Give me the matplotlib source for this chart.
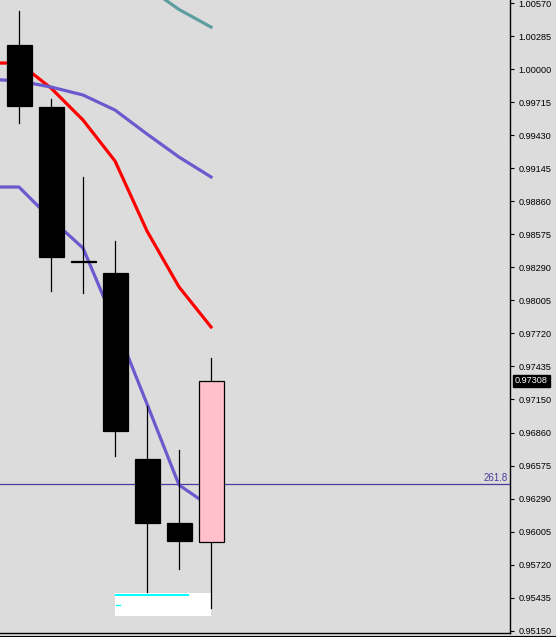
import matplotlib
matplotlib.use("Agg")
import matplotlib.pyplot as plt
from matplotlib.patches import Rectangle

# OHLC candles (index 0 = leftmost visible bar)
opens = [1.00210, 0.99674, 0.98345, 0.98240, 0.96633, 0.96080, 0.95914]
highs = [1.00504, 0.99743, 0.99067, 0.98517, 0.97094, 0.96711, 0.97506]
lows = [0.99539, 0.98087, 0.98065, 0.96659, 0.95487, 0.95686, 0.95349]
closes = [0.99683, 0.98381, 0.98338, 0.96878, 0.96083, 0.95928, 0.97308]

# moving averages (first value belongs to the bar left of the window)
ma_x = [-1, 0, 1, 2, 3, 4, 5, 6]
red_ma = [1.00054, 1.00054, 0.99838, 0.99562, 0.99208, 0.98603, 0.98120, 0.97774]
slow_ma = [0.99916, 0.99899, 0.99847, 0.99778, 0.99648, 0.99441, 0.99242, 0.99070]
fast_ma = [0.98983, 0.98983, 0.98707, 0.98456, 0.97800, 0.97109, 0.96409, 0.96219]
teal_x = [4, 5, 6]
teal_ma = [1.00711, 1.00517, 1.00365]

fib_level = 0.96417
fib_label = "261.8"
last_price = 0.97308

tick_labels = ["1.00570", "1.00285", "1.00000", "0.99715", "0.99430", "0.99145",
               "0.98860", "0.98575", "0.98290", "0.98005", "0.97720", "0.97435",
               "0.97150", "0.96860", "0.96575", "0.96290", "0.96005", "0.95720",
               "0.95435", "0.95150"]

plt.rcParams['font.family'] = ['Liberation Sans', 'DejaVu Sans']

BG = "#DCDCDC"
W, H = 556, 637
YMIN, YMAX = 0.951302, 1.005987
fig = plt.figure(figsize=(W / 100, H / 100), dpi=100, facecolor=BG)
ax = fig.add_axes([0, 1 - 633 / H, 510 / W, 633 / H], facecolor=BG)

px = 1 / 32.0  # one pixel in bar units
ax.set_xlim(-19 * px, (510 - 19) * px)
ax.set_ylim(YMIN, YMAX)
ppx = (YMAX - YMIN) / 633  # one pixel in price units

lw = 2.3
ax.plot(ma_x, red_ma, color="#FF0000", lw=lw, zorder=2)
ax.plot(ma_x, slow_ma, color="#6A5ACD", lw=lw, zorder=2)
ax.plot(ma_x, fast_ma, color="#6A5ACD", lw=lw, zorder=2)
ax.plot(teal_x, teal_ma, color="#5F9EA0", lw=lw, zorder=2)

ax.axhline(fib_level, color="#483D9B", lw=0.9, zorder=1)
ax.text(1 - 2 / 510, fib_level + ppx, fib_label, transform=ax.get_yaxis_transform(),
        ha="right", va="bottom", fontsize=7, color="#483D9B")

# white info box at the bottom
box_y0 = YMIN + (633 - 616) * ppx
box_y1 = YMIN + (633 - 593) * ppx
ax.add_patch(Rectangle((96 * px, box_y0), 96 * px, box_y1 - box_y0,
                       facecolor="white", edgecolor="none", zorder=3))
ax.plot([97 * px, 169 * px], [box_y1 - 1.5 * ppx] * 2, color="#00FFFF", lw=1.4, zorder=4)
ax.plot([97 * px, 101 * px], [box_y1 - 12 * ppx] * 2, color="#00FFFF", lw=1.0, zorder=4)

# candles
bw = 25 * px
for i, (o, h, l, c) in enumerate(zip(opens, highs, lows, closes)):
    ax.plot([i, i], [l, h], color="black", lw=0.9, zorder=5)
    face = "#FFC0CB" if c > o else "black"
    ax.add_patch(Rectangle((i - bw / 2, min(o, c)), bw, abs(c - o),
                           facecolor=face, edgecolor="black", lw=0.9, zorder=6))

# right price axis
ax.yaxis.tick_right()
ticks = [float(t) for t in tick_labels]
ax.set_yticks(ticks)
ax.set_yticklabels(tick_labels)
ax.tick_params(axis="y", direction="out", length=3, width=0.8, pad=3,
               labelsize=6.6, colors="black")
ax.set_xticks([])
for s in ["left", "top"]:
    ax.spines[s].set_visible(False)
ax.spines["right"].set_linewidth(1.0)
ax.spines["bottom"].set_linewidth(1.0)

ax.text(1.0 + 5 / 510, last_price, "0.97308", transform=ax.get_yaxis_transform(),
        ha="left", va="center", fontsize=6.6, color="white",
        bbox=dict(boxstyle="square,pad=0.2", facecolor="black", edgecolor="black"))

fig.add_artist(plt.Line2D([0, 1], [1 - 635.5 / H] * 2, color="black", lw=0.8))

fig.savefig("out.png", dpi=100, facecolor=BG)
